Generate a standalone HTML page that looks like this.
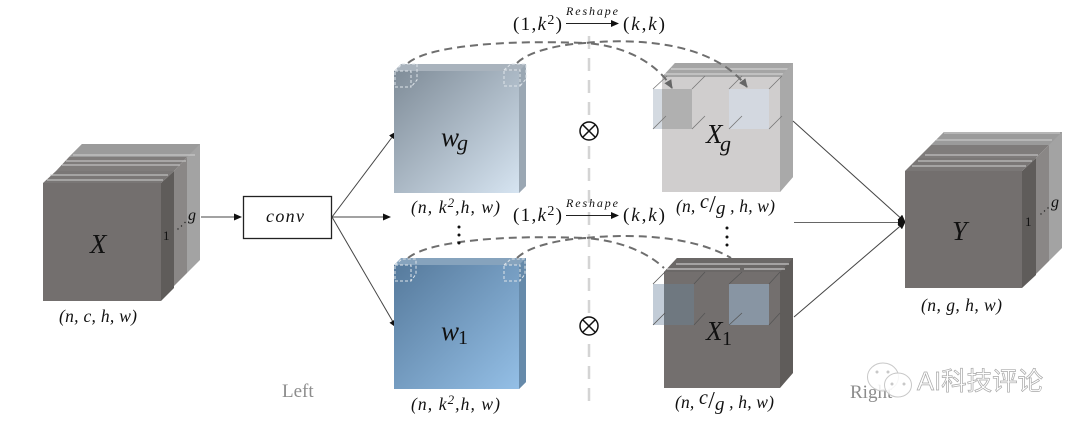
<!DOCTYPE html>
<html><head><meta charset="utf-8">
<style>
html,body{margin:0;padding:0;background:#fff;width:1080px;height:428px;overflow:hidden}
svg{display:block}
text{font-family:"Liberation Serif",serif;fill:#111}
.m{font-style:italic;font-size:17.500px}
</style></head><body>
<svg width="1080" height="428" viewBox="0 0 1080 428" xmlns="http://www.w3.org/2000/svg">
<defs>
<linearGradient id="wg" x1="0" y1="0" x2="1" y2="1"><stop offset="0" stop-color="#7f8c98"/><stop offset="1" stop-color="#d6e4f1"/></linearGradient>
<linearGradient id="w1" x1="0" y1="0" x2="1" y2="1"><stop offset="0" stop-color="#567a9c"/><stop offset="1" stop-color="#94bfe6"/></linearGradient>
<marker id="a" markerWidth="8" markerHeight="8" refX="7" refY="3.500" orient="auto" markerUnits="userSpaceOnUse"><path d="M0 0L8 3.500L0 7z" fill="#111"/></marker>
<marker id="d" markerWidth="9" markerHeight="9" refX="8" refY="4" orient="auto" markerUnits="userSpaceOnUse"><path d="M0 0L9 4L0 8z" fill="#666"/></marker>
</defs>

<!-- X cube -->
<path d="M82 144H200V260L187 273V157H69Z" fill="#a3a3a3"/>
<path d="M82 144H200L187 157H69Z" fill="#9b9b9b"/>
<path d="M174 171L187 157V273L174 286Z" fill="#8a8786"/>
<path d="M69 157H187L174 171H56Z" fill="#7f7c7b"/>
<path d="M161 183L174 171V288L161 301Z" fill="#5f5c5a"/>
<path d="M56 171H174L161 183H43Z" fill="#7a7776"/>
<path d="M73 155H195M66 161H186M62 165H180M50 175H168M47 180H163" stroke="#d0d0d0" stroke-width="1"/>
<rect x="43" y="183" width="118" height="118" fill="#736f6e"/>
<text x="90" y="253" font-size="27" font-style="italic">X</text>
<text x="163" y="240" font-size="13">1</text>
<g fill="#222"><circle cx="178" cy="229" r=".7"/><circle cx="181.500" cy="226" r=".7"/><circle cx="185" cy="222.500" r=".7"/></g>
<text x="188" y="220" font-size="16" font-style="italic">g</text>
<text x="59" y="322" class="m" textLength="78">(n, c, h, w)</text>

<!-- conv -->
<line x1="201" y1="217" x2="241" y2="217" stroke="#444" stroke-width="1" marker-end="url(#a)"/>
<rect x="243.500" y="196.500" width="88" height="42" fill="#fff" stroke="#222" stroke-width="1.300"/>
<text x="266" y="222" font-size="18" font-style="italic" textLength="38">conv</text>
<line x1="332" y1="217" x2="396" y2="132" stroke="#444" stroke-width="1" marker-end="url(#a)"/>
<line x1="332" y1="217" x2="396" y2="327" stroke="#444" stroke-width="1" marker-end="url(#a)"/>
<line x1="332" y1="217" x2="390" y2="217" stroke="#444" stroke-width="1" marker-end="url(#a)"/>

<!-- wg -->
<path d="M401 64H526V186L519 193V71H394Z" fill="#a9b3bd"/>
<path d="M519 71L526 64V186L519 193Z" fill="#9aa7b3"/>
<rect x="394" y="71" width="125" height="122" fill="url(#wg)"/>
<text x="441" y="146" font-size="27" font-style="italic">w</text>
<text x="457" y="150" font-size="22" font-style="italic">g</text>
<text x="411" y="213" class="m" textLength="89">(n, k<tspan font-size="13" dy="-6">2</tspan><tspan dy="6">,h, w)</tspan></text>

<!-- w1 -->
<path d="M401 258H526V382L519 389V265H394Z" fill="#86a3bd"/>
<path d="M519 265L526 258V382L519 389Z" fill="#668aaa"/>
<rect x="394" y="265" width="125" height="124" fill="url(#w1)"/>
<text x="441" y="340" font-size="27" font-style="italic">w</text>
<text x="458" y="344" font-size="20">1</text>
<text x="411" y="410" class="m" textLength="89">(n, k<tspan font-size="13" dy="-6">2</tspan><tspan dy="6">,h, w)</tspan></text>

<!-- small dashed squares -->
<g fill="none" stroke="#dfe5ea" stroke-width="1" stroke-dasharray="3 2">
<path d="M395 71H411V87H395ZM395 71L402 64H417V80L411 87"/>
<path d="M504 70H520V86H504ZM504 70L511 64H526V79L520 86"/>
<path d="M395 265H411V281H395ZM395 265L402 259H416V274L411 281"/>
<path d="M504 265H520V281H504ZM504 265L511 259H525V274L520 281"/>
</g>

<!-- centre divider -->
<line x1="589" y1="36" x2="589" y2="408" stroke="#d4d4d4" stroke-width="2.500" stroke-dasharray="13 9"/>
<g fill="#fff" stroke="#111" stroke-width="1.500">
<circle cx="589" cy="131" r="9"/><path d="M582.600 124.600L595.400 137.400M595.400 124.600L582.600 137.400"/>
<circle cx="589" cy="326" r="9"/><path d="M582.600 319.600L595.400 332.400M595.400 319.600L582.600 332.400"/>
</g>

<!-- Xg -->
<path d="M675 63H793V177L780 192V77H662Z" fill="#aaa"/>
<path d="M675 63H793L780 77H662Z" fill="#a5a5a5"/>
<path d="M671 69H789M665 74H785" stroke="#ddd" stroke-width="1"/>
<path d="M780 77L793 63V177L780 192Z" fill="#a9a9a9"/>
<rect x="662" y="77" width="118" height="115" fill="#d0cece"/>
<text x="706" y="143" font-size="27" font-style="italic">X</text>
<text x="720" y="151" font-size="22" font-style="italic">g</text>
<rect x="653" y="89" width="39" height="40" fill="#a9b6c4" fill-opacity=".5"/>
<rect x="662" y="89" width="30" height="40" fill="#b0b0b0"/>
<rect x="729" y="89" width="40" height="40" fill="#d3d8e0"/>
<g stroke="#777" stroke-width=".8" fill="none">
<path d="M653 89L667 76M692 89L705 76M653 129L666 116M692 129L705 116M729 89L742 76M769 89L782 76M729 129L742 116M769 129L782 116"/>
</g>
<text x="676" y="212" class="m" textLength="99">(n, <tspan font-size="20" dy="-4">c</tspan><tspan font-size="24" dy="4" font-style="normal">/</tspan><tspan font-size="19" dy="2">g</tspan><tspan dy="-2"> , h, w)</tspan></text>

<!-- X1 -->
<path d="M677 258H793V373L780 388V272H664Z" fill="#5f5c5a"/>
<path d="M677 258H793L780 272H664Z" fill="#6b6867"/>
<path d="M676 264H789M667 269H740M744 269H785" stroke="#dcdcdc" stroke-width="1"/>
<rect x="664" y="272" width="116" height="116" fill="#736f6e"/>
<text x="706" y="340" font-size="27" font-style="italic">X</text>
<text x="722" y="345" font-size="20">1</text>
<rect x="653" y="284" width="11" height="41" fill="#c2ccd7"/>
<rect x="664" y="284" width="30" height="41" fill="#6f7880"/>
<rect x="729" y="284" width="40" height="41" fill="#8895a3"/>
<g stroke="#555" stroke-width=".8" fill="none">
<path d="M653 284L665 272M694 284L705 272M653 325L665 313M694 325L705 313M729 284L742 272M769 284L780 272M729 325L742 313M769 325L780 313"/>
</g>
<text x="675" y="408" class="m" textLength="99">(n, <tspan font-size="20" dy="-4">c</tspan><tspan font-size="24" dy="4" font-style="normal">/</tspan><tspan font-size="19" dy="2">g</tspan><tspan dy="-2"> , h, w)</tspan></text>

<!-- dashed curves -->
<g fill="none" stroke="#6e6e6e" stroke-width="2" stroke-dasharray="8 5">
<path d="M408 63C430 45 510 40 585 43C625 39 710 38 747 87" marker-end="url(#d)"/>
<path d="M517 63C530 50 565 44 585 43C620 45 655 60 672 88" marker-end="url(#d)"/>
<path d="M408 258C430 240 510 235 585 238C625 234 690 234 731 258"/>
<path d="M517 258C530 245 565 239 585 238C615 240 645 250 664 268"/>
</g>

<!-- reshape labels -->
<text x="513" y="30" font-size="19" textLength="49">(1,<tspan font-style="italic">k</tspan><tspan font-size="14" dy="-6">2</tspan><tspan dy="6">)</tspan></text>
<text x="566" y="15" font-size="12" font-style="italic" textLength="52">Reshape</text>
<line x1="566" y1="23.500" x2="618" y2="23.500" stroke="#222" stroke-width="1" marker-end="url(#a)"/>
<text x="623" y="30" font-size="19" textLength="42">(<tspan font-style="italic">k</tspan>,<tspan font-style="italic">k</tspan>)</text>
<text x="513" y="221" font-size="19" textLength="49">(1,<tspan font-style="italic">k</tspan><tspan font-size="14" dy="-6">2</tspan><tspan dy="6">)</tspan></text>
<text x="566" y="207" font-size="12" font-style="italic" textLength="52">Reshape</text>
<line x1="566" y1="215.500" x2="618" y2="215.500" stroke="#222" stroke-width="1" marker-end="url(#a)"/>
<text x="623" y="221" font-size="19" textLength="42">(<tspan font-style="italic">k</tspan>,<tspan font-style="italic">k</tspan>)</text>

<!-- vertical dots -->
<g fill="#111"><circle cx="459" cy="227" r="1.500"/><circle cx="459" cy="235" r="1.500"/><circle cx="459" cy="243" r="1.500"/>
<circle cx="727" cy="228" r="1.500"/><circle cx="727" cy="237" r="1.500"/><circle cx="727" cy="245" r="1.500"/></g>

<!-- to Y -->
<line x1="793" y1="121" x2="905" y2="222" stroke="#444" stroke-width="1" marker-end="url(#a)"/>
<line x1="794" y1="222.500" x2="905" y2="222.500" stroke="#666" stroke-width="1" marker-end="url(#a)"/>
<line x1="794" y1="317" x2="905" y2="222" stroke="#444" stroke-width="1" marker-end="url(#a)"/>

<!-- Y cube -->
<path d="M944 132H1062V248L1049 261V145H931Z" fill="#a3a3a3"/>
<path d="M944 132H1062L1049 145H931Z" fill="#9b9b9b"/>
<path d="M1036 158L1049 145V261L1036 274Z" fill="#8a8786"/>
<path d="M931 145H1049L1036 158H918Z" fill="#7f7c7b"/>
<path d="M1022 171L1036 158V275L1022 288Z" fill="#5f5c5a"/>
<path d="M918 158H1036L1022 171H905Z" fill="#7a7776"/>
<path d="M944 133H1060M936 140H1052M925 155H1038M918 161H1032M912 166H1026" stroke="#d0d0d0" stroke-width="1"/>
<rect x="905" y="171" width="117" height="117" fill="#736f6e"/>
<text x="952" y="240" font-size="27" font-style="italic">Y</text>
<text x="1025" y="226" font-size="13">1</text>
<g fill="#222"><circle cx="1041" cy="214" r=".7"/><circle cx="1044.500" cy="211" r=".7"/><circle cx="1048" cy="208" r=".7"/></g>
<text x="1051" y="207" font-size="16" font-style="italic">g</text>
<text x="921" y="311" class="m" textLength="81">(n, g, h, w)</text>

<!-- captions -->
<text x="282" y="397" font-size="19" style="fill:#8c8c8c">Left</text>
<text x="850" y="398" font-size="19" style="fill:#8c8c8c">Right</text>

<!-- watermark -->
<g fill="#fff" fill-opacity=".85" stroke="#c8c8c8" stroke-width="1">
<ellipse cx="883" cy="377" rx="15.500" ry="14"/>
<ellipse cx="898" cy="385" rx="13.500" ry="12"/>
<circle cx="892" cy="384" r="1" fill="#bbb"/><circle cx="904" cy="384" r="1" fill="#bbb"/>
<circle cx="877" cy="372" r="1" fill="#bbb"/><circle cx="888" cy="372" r="1" fill="#bbb"/>
</g>
<text x="917" y="390" font-size="25.500" style="fill:#fff;stroke:#a8a8a8;stroke-width:.7;font-family:'Liberation Sans','Noto Sans CJK SC',sans-serif">AI科技评论</text>
</svg>
</body></html>
